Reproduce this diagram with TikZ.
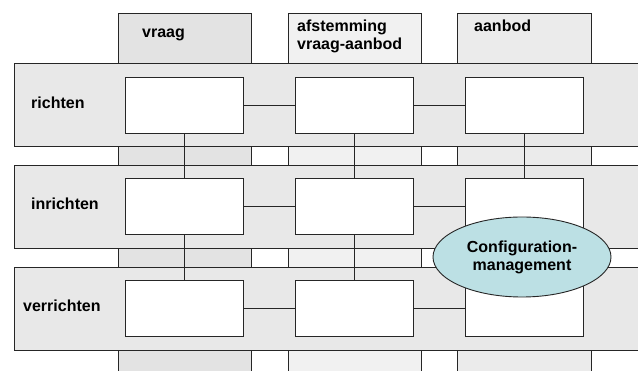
\documentclass[tikz,border=0pt]{standalone}
\usepackage{fontspec}
\setmainfont{Liberation Sans}[BoldFont={Liberation Sans Bold}]
\usetikzlibrary{shapes.geometric}
\definecolor{kolomA}{HTML}{E3E3E3}
\definecolor{kolomB}{HTML}{F1F1F1}
\definecolor{kolomC}{HTML}{EBEBEB}
\definecolor{rij}{HTML}{E8E8E8}
\definecolor{cm}{HTML}{BCE0E4}
\tikzset{
  vak/.style={draw=black!85, fill=white, line width=0.9pt, minimum width=118pt, minimum height=56pt, inner sep=0pt},
  tekst/.style={anchor=base west, inner sep=0pt, font=\bfseries\fontsize{16}{18}\selectfont, align=left},
  lijn/.style={draw=black!85, line width=0.9pt}
}
\begin{document}
\begin{tikzpicture}[x=1pt, y=-1pt, color = {black}]
    \useasboundingbox (0,0) rectangle (638,371);
    \clip (0,0) rectangle (638,371);
    % kolommen
    \draw[lijn, fill=kolomA] (118,380) -- (118,13) -- (251,13) -- (251,380);
    \draw[lijn, fill=kolomB] (288,380) -- (288,13) -- (421,13) -- (421,380);
    \draw[lijn, fill=kolomC] (457,380) -- (457,13) -- (591,13) -- (591,380);
    \node[tekst] (vraag) at (142,38) {vraag};
    \node[tekst] (afst) at (297,50) {afstemming\\vraag-aanbod};
    \node[tekst] (aanbod) at (474,32) {aanbod};
    % rijen
    \draw[lijn, fill=rij] (650,63) -- (14,63) -- (14,146) -- (650,146);
    \draw[lijn, fill=rij] (650,165) -- (14,165) -- (14,248) -- (650,248);
    \draw[lijn, fill=rij] (650,267) -- (14,267) -- (14,350) -- (650,350);
    \node[tekst] (richten) at (31,109) {richten};
    \node[tekst] (inrichten) at (31,210) {inrichten};
    \node[tekst] (verrichten) at (23,312) {verrichten};
    % vakken
    \node[vak] (a1) at (184,105) {};
    \node[vak] (b1) at (354,105) {};
    \node[vak] (c1) at (524,105) {};
    \node[vak] (a2) at (184,206.5) {};
    \node[vak] (b2) at (354,206.5) {};
    \node[vak] (c2) at (524,206.5) {};
    \node[vak] (a3) at (184,308.5) {};
    \node[vak] (b3) at (354,308.5) {};
    \node[vak] (c3) at (524,308.5) {};
    \draw[lijn] (a1) -- (b1) -- (c1);
    \draw[lijn] (a2) -- (b2) -- (c2);
    \draw[lijn] (a3) -- (b3) -- (c3);
    \draw[lijn] (a1) -- (a2) -- (a3);
    \draw[lijn] (b1) -- (b2) -- (b3);
    \draw[lijn] (c1) -- (c2);
    % configuratiemanagement
    \node[ellipse, draw=black!85, line width=0.9pt, fill=cm, minimum width=178pt, minimum height=80pt, inner sep=0pt,
          align=center, font=\bfseries\fontsize{16}{18}\selectfont] (cfg) at (522,257) {Configuration-\\management};
\end{tikzpicture}
\end{document}
